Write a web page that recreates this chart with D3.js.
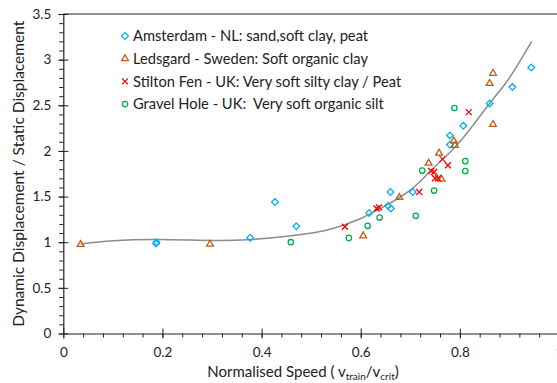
<!DOCTYPE html>
<html>
<head>
<meta charset="utf-8">
<script src="https://cdn.jsdelivr.net/npm/d3@7"></script>
<style>
  body { margin: 0; background: #fff; }
  text { font-family: Lato, "Noto Sans", sans-serif; fill: #222; }
</style>
</head>
<body>
<div class="chart"></div>
<script>
// values (x = v_train / v_crit, y = dynamic / static displacement)
const amsterdamX = [0.187, 0.188, 0.377, 0.427, 0.470, 0.617, 0.655, 0.660, 0.661, 0.705, 0.780, 0.780, 0.807, 0.860, 0.906, 0.944];
const amsterdamY = [0.985, 1.000, 1.05, 1.44, 1.175, 1.32, 1.40, 1.55, 1.37, 1.55, 2.17, 2.07, 2.275, 2.52, 2.70, 2.915];

const ledsgardX = [0.035, 0.296, 0.605, 0.678, 0.737, 0.758, 0.763, 0.788, 0.790, 0.860, 0.867, 0.867];
const ledsgardY = [0.975, 0.978, 1.07, 1.49, 1.866, 1.976, 1.69, 2.11, 2.06, 2.74, 2.85, 2.29];

const stiltonX = [0.568, 0.632, 0.637, 0.718, 0.742, 0.748, 0.750, 0.756, 0.765, 0.776, 0.818];
const stiltonY = [1.17, 1.37, 1.38, 1.55, 1.78, 1.77, 1.70, 1.70, 1.91, 1.844, 2.425];

const gravelX = [0.459, 0.576, 0.614, 0.638, 0.711, 0.724, 0.748, 0.789, 0.811, 0.811];
const gravelY = [1.00, 1.047, 1.18, 1.27, 1.29, 1.785, 1.566, 2.47, 1.888, 1.78];

// grey trend line
const trendX = [0.035, 0.1, 0.19, 0.3, 0.38, 0.46, 0.54, 0.6, 0.64, 0.7, 0.75, 0.8, 0.86, 0.9, 0.945];
const trendY = [0.98, 1.015, 1.03, 1.02, 1.03, 1.07, 1.145, 1.26, 1.37, 1.57, 1.83, 2.1, 2.52, 2.8, 3.2];

const xTicks = [0, 0.2, 0.4, 0.6, 0.8, 1];
const yTicks = [0, 0.5, 1, 1.5, 2, 2.5, 3, 3.5];

const seriesNames = [
  "Amsterdam - NL: sand,soft clay, peat",
  "Ledsgard - Sweden: Soft organic clay",
  "Stilton Fen - UK: Very soft silty clay / Peat",
  "Gravel Hole - UK:  Very soft organic silt"
];

const width = 557, height = 383;

const svg = d3.select(".chart").append("svg")
  .attr("width", width)
  .attr("height", height);

const x = d3.scaleLinear().domain([0, 1]).range([63.3, 559]);
const y = d3.scaleLinear().domain([0, 3.5]).range([333.5, 14]);

// frame top line
svg.append("line")
  .attr("x1", x(0)).attr("x2", x(1))
  .attr("y1", y(3.5)).attr("y2", y(3.5))
  .attr("stroke", "#222").attr("stroke-width", 1);

// minor ticks
svg.append("g")
  .attr("transform", `translate(0,${y(0)})`)
  .call(d3.axisBottom(x).tickValues(d3.range(0, 1.001, 0.04)).tickSize(4).tickFormat(""))
  .call(g => g.select(".domain").remove())
  .call(g => g.selectAll("line").attr("stroke", "#222"));

svg.append("g")
  .attr("transform", `translate(${x(0)},0)`)
  .call(d3.axisLeft(y).tickValues(d3.range(0, 3.501, 0.1)).tickSize(4).tickFormat(""))
  .call(g => g.select(".domain").remove())
  .call(g => g.selectAll("line").attr("stroke", "#222"));

// x axis
svg.append("g")
  .attr("transform", `translate(0,${y(0)})`)
  .call(d3.axisBottom(x).tickValues(xTicks).tickSizeInner(5).tickSizeOuter(0).tickPadding(9)
    .tickFormat(d => d3.format("")(d)))
  .call(g => g.select(".domain").attr("stroke", "#222").attr("stroke-width", 1.2))
  .call(g => g.selectAll(".tick line").attr("y1", -5).attr("stroke", "#222"))
  .call(g => g.selectAll("text").attr("font-size", 13.5).attr("fill", "#222")
    .style("font-family", "Lato, 'Noto Sans', sans-serif"));

// y axis
svg.append("g")
  .attr("transform", `translate(${x(0)},0)`)
  .call(d3.axisLeft(y).tickValues(yTicks).tickSizeInner(5).tickSizeOuter(0).tickPadding(7)
    .tickFormat(d => d3.format("")(d)))
  .call(g => g.select(".domain").attr("stroke", "#222").attr("stroke-width", 1.2))
  .call(g => g.selectAll(".tick line").attr("x1", 5).attr("stroke", "#222"))
  .call(g => g.selectAll("text").attr("font-size", 13.5).attr("fill", "#222")
    .style("font-family", "Lato, 'Noto Sans', sans-serif"));

// axis titles
const xTitle = svg.append("text")
  .attr("x", 303).attr("y", 377)
  .attr("text-anchor", "middle")
  .attr("font-size", 15);
xTitle.append("tspan").text("Normalised Speed ( v");
xTitle.append("tspan").attr("font-size", 10).attr("dy", 3).text("train");
xTitle.append("tspan").attr("dy", -3).text("/v");
xTitle.append("tspan").attr("font-size", 10).attr("dy", 3).text("crit");
xTitle.append("tspan").attr("dy", -3).text(")");

svg.append("text")
  .attr("transform", `translate(24,${y(1.75)}) rotate(-90)`)
  .attr("text-anchor", "middle")
  .attr("font-size", 15.5)
  .text("Dynamic Displacement / Static Displacement");

// trend line
const trend = trendX.map((v, i) => [v, trendY[i]]);
svg.append("path")
  .datum(trend)
  .attr("fill", "none")
  .attr("stroke", "#8c8c8c")
  .attr("stroke-width", 1.5)
  .attr("d", d3.line().x(d => x(d[0])).y(d => y(d[1])).curve(d3.curveNatural));

// markers
const diamond = d3.symbol().type(d3.symbolSquare).size(22)();
const triangle = d3.symbol().type(d3.symbolTriangle).size(20)();

function drawDiamond(g, cx, cy) {
  g.append("path").attr("d", diamond)
    .attr("transform", `translate(${cx},${cy}) rotate(45)`)
    .attr("fill", "none").attr("stroke", "#00b0f0").attr("stroke-width", 1.3);
}
function drawTriangle(g, cx, cy) {
  g.append("path").attr("d", triangle)
    .attr("transform", `translate(${cx},${cy})`)
    .attr("fill", "none").attr("stroke", "#c55a11").attr("stroke-width", 1.3);
}
function drawCross(g, cx, cy) {
  const r = 3;
  g.append("path")
    .attr("d", `M${cx - r},${cy - r}L${cx + r},${cy + r}M${cx - r},${cy + r}L${cx + r},${cy - r}`)
    .attr("stroke", "#ff0000").attr("stroke-width", 1.3);
}
function drawCircle(g, cx, cy) {
  g.append("circle").attr("cx", cx).attr("cy", cy).attr("r", 2.7)
    .attr("fill", "none").attr("stroke", "#00b050").attr("stroke-width", 1.3);
}

const pts = svg.append("g");
amsterdamX.forEach((v, i) => drawDiamond(pts, x(v), y(amsterdamY[i])));
ledsgardX.forEach((v, i) => drawTriangle(pts, x(v), y(ledsgardY[i])));
stiltonX.forEach((v, i) => drawCross(pts, x(v), y(stiltonY[i])));
gravelX.forEach((v, i) => drawCircle(pts, x(v), y(gravelY[i])));

// legend
const drawers = [drawDiamond, drawTriangle, drawCross, drawCircle];
const legend = svg.append("g");
seriesNames.forEach((name, i) => {
  const ly = 36 + i * 22.7;
  drawers[i](legend, 125, ly);
  legend.append("text")
    .attr("x", 133).attr("y", ly)
    .attr("dy", "0.35em")
    .attr("font-size", 14.7)
    .style("white-space", "pre")
    .text(name);
});
</script>
</body>
</html>
